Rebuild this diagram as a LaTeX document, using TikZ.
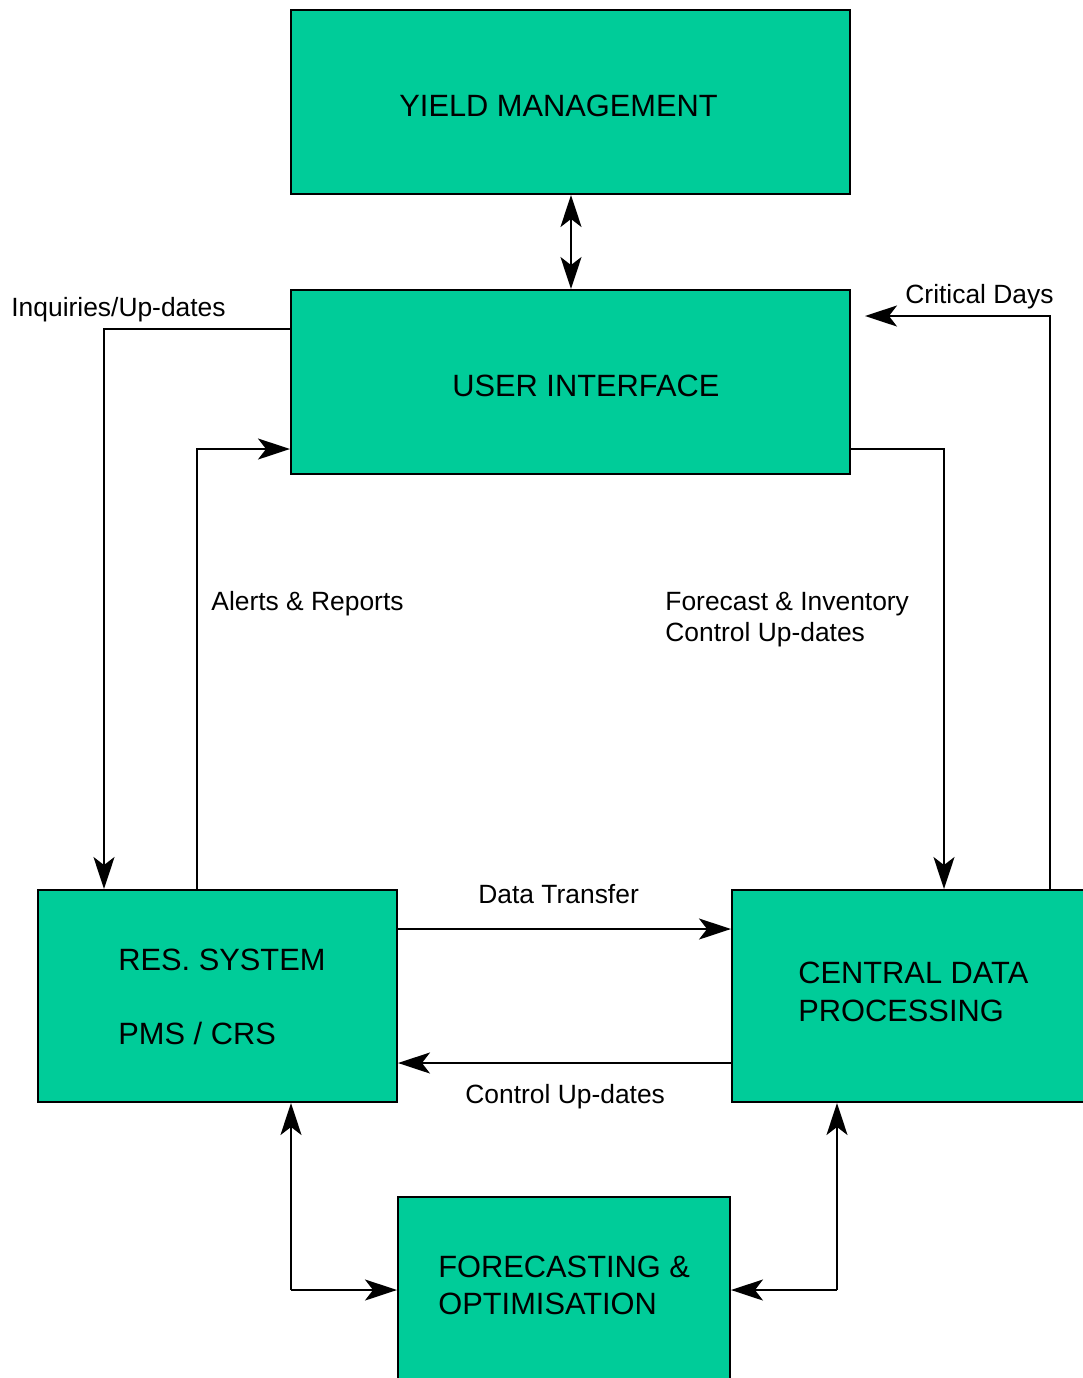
\documentclass[tikz,border=0pt]{standalone}
\usepackage{fontspec}
\setmainfont{Liberation Sans}
\usetikzlibrary{arrows.meta,fit}
\definecolor{boxgreen}{RGB}{0,204,153}
\tikzset{
  box/.style={draw=black, line width=1pt, fill=boxgreen, inner sep=0pt},
  boxtext/.style={anchor=base west, inner sep=0pt, font=\fontsize{15.4}{18}\selectfont},
  lbl/.style={anchor=base west, inner sep=0pt, font=\fontsize{13.2}{15.5}\selectfont},
  conn/.style={line width=1pt, -{Stealth[length=16pt,width=10.5pt,inset=4pt]}},
  dconn/.style={line width=1pt, {Stealth[length=16pt,width=10.5pt,inset=4pt]}-{Stealth[length=16pt,width=10.5pt,inset=4pt]}},
  plain/.style={line width=1pt}
}
\begin{document}
\begin{tikzpicture}[x=0.5pt,y=-0.5pt]
\useasboundingbox (0,0) rectangle (1083,1378);
% corner coordinates
\coordinate (ym1) at (291,10);   \coordinate (ym2) at (850,194);
\coordinate (ui1) at (291,290);  \coordinate (ui2) at (850,474);
\coordinate (re1) at (38,890);   \coordinate (re2) at (397,1102);
\coordinate (cd1) at (732,890);  \coordinate (cd2) at (1092,1102);
\coordinate (fo1) at (398,1197); \coordinate (fo2) at (730,1392);
% boxes
\node[box, fit=(ym1)(ym2)] (ym) {};
\node[box, fit=(ui1)(ui2)] (ui) {};
\node[box, fit=(re1)(re2)] (res) {};
\node[box, fit=(cd1)(cd2)] (cdp) {};
\node[box, fit=(fo1)(fo2)] (fo) {};
% box texts
\node[boxtext] (tym) at (399,116) {YIELD MANAGEMENT};
\node[boxtext] (tui) at (452,396) {USER INTERFACE};
\node[boxtext] (tres1) at (118,970) {RES. SYSTEM};
\node[boxtext] (tres2) at (118,1044) {PMS / CRS};
\node[boxtext] (tcdp1) at (798,983) {CENTRAL DATA};
\node[boxtext] (tcdp2) at (798,1021) {PROCESSING};
\node[boxtext] (tfo1) at (438,1277) {FORECASTING \&};
\node[boxtext] (tfo2) at (438,1314) {OPTIMISATION};
% labels
\node[lbl] (l1) at (11,316) {Inquiries/Up-dates};
\node[lbl] (l2) at (905,303) {Critical Days};
\node[lbl] (l3) at (211,610) {Alerts \& Reports};
\node[lbl] (l4) at (665,610) {Forecast \& Inventory};
\node[lbl] (l5) at (665,641) {Control Up-dates};
\node[lbl] (l6) at (478,903) {Data Transfer};
\node[lbl] (l7) at (465,1103) {Control Up-dates};
% coordinates
\coordinate (c1) at (104,329);
\coordinate (c2) at (197,449);
\coordinate (c3) at (944,449);
\coordinate (c4) at (1050,316);
\coordinate (c5) at (865,316);
\coordinate (c6) at (291,1290);
\coordinate (c7) at (837,1290);
\coordinate (x0) at (571,0);
\coordinate (y1) at (0,929);
\coordinate (y2) at (0,1063);
% connectors
\draw[dconn] (ym.south -| x0) -- (ui.north -| x0);
\draw[conn] (ui.west |- c1) -- (c1) -- (c1 |- res.north);
\draw[conn] (c2 |- res.north) -- (c2) -- (ui.west |- c2);
\draw[conn] (ui.east |- c3) -- (c3) -- (c3 |- cdp.north);
\draw[conn] (c4 |- cdp.north) -- (c4) -- (c5);
\draw[conn] (res.east |- y1) -- (cdp.west |- y1);
\draw[conn] (cdp.west |- y2) -- (res.east |- y2);
\draw[conn] (c6) -- (c6 |- res.south);
\draw[conn] (c6) -- (fo.west |- c6);
\draw[conn] (c7) -- (c7 |- cdp.south);
\draw[conn] (c7) -- (fo.east |- c7);
\end{tikzpicture}
\end{document}
